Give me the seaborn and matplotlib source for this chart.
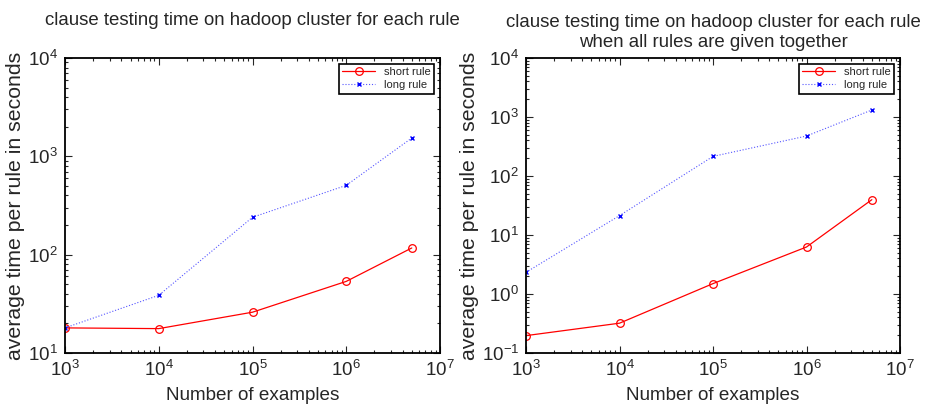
import pandas as pd
import seaborn as sns
import matplotlib.pyplot as plt

# values
examples = [1e3, 1e4, 1e5, 1e6, 5e6]
short_sep = [18, 17.7, 26, 53.5, 117]
long_sep = [18, 38.6, 240, 507, 1535]
short_all = [0.197, 0.32, 1.5, 6.26, 39.7]
long_all = [2.33, 21.3, 215, 476, 1315]

titles = ['clause testing time on hadoop cluster for each rule',
          'clause testing time on hadoop cluster for each rule\nwhen all rules are given together']
ylims = [(10, 1e4), (0.1, 1e4)]

sns.set_style('ticks')
plt.rcParams['font.family'] = ['Liberation Sans', 'DejaVu Sans']
plt.rcParams['mathtext.fontset'] = 'custom'
plt.rcParams['mathtext.rm'] = 'Liberation Sans'
plt.rcParams['mathtext.it'] = 'Liberation Sans'

fig = plt.figure(figsize=(9.26, 4.08), dpi=100)
ax1 = fig.add_axes([65 / 926, 1 - 353 / 408, 375 / 926, 295 / 408])
ax2 = fig.add_axes([526 / 926, 1 - 353 / 408, 374 / 926, 295 / 408])

sets = [(short_sep, long_sep), (short_all, long_all)]
for ax, (s, l), title, yl in zip([ax1, ax2], sets, titles, ylims):
    df = pd.DataFrame({'x': examples, 'short': s, 'long': l})
    sns.lineplot(data=df, x='x', y='short', ax=ax, color='red', lw=0.9,
                 marker='o', markersize=5.5, markerfacecolor='none',
                 markeredgecolor='red', markeredgewidth=0.9, label='short rule')
    sns.lineplot(data=df, x='x', y='long', ax=ax, color='#5555ff', lw=0.8,
                 linestyle=':', marker='x', markersize=3.5,
                 markeredgecolor='blue', markeredgewidth=1.0, label='long rule')
    ax.set_xscale('log')
    ax.set_yscale('log')
    ax.set_xlim(1e3, 1e7)
    ax.set_ylim(*yl)
    ax.set_title(title, fontsize=13.4, pad=24 if '\n' not in title else 8)
    ax.set_xlabel('Number of examples', fontsize=13.6, labelpad=5)
    ax.set_ylabel('average time per rule in seconds', fontsize=15.3, labelpad=2)
    ax.tick_params(which='both', direction='in', top=True, right=True,
                   labelsize=13.5, width=0.8)
    ax.tick_params(axis='y', pad=5)
    ax.tick_params(axis='x', pad=5)
    ax.tick_params(which='major', length=5)
    ax.tick_params(which='minor', length=2.5)
    for sp in ax.spines.values():
        sp.set_linewidth(1.3)
        sp.set_color('black')
    leg = ax.legend(loc='upper right', fontsize=8, fancybox=False,
                    framealpha=1, edgecolor='black', borderpad=0.3,
                    handlelength=3, labelspacing=0.3, borderaxespad=0.5)
    leg.get_frame().set_linewidth(1.2)

fig.savefig('out.png', dpi=100)
